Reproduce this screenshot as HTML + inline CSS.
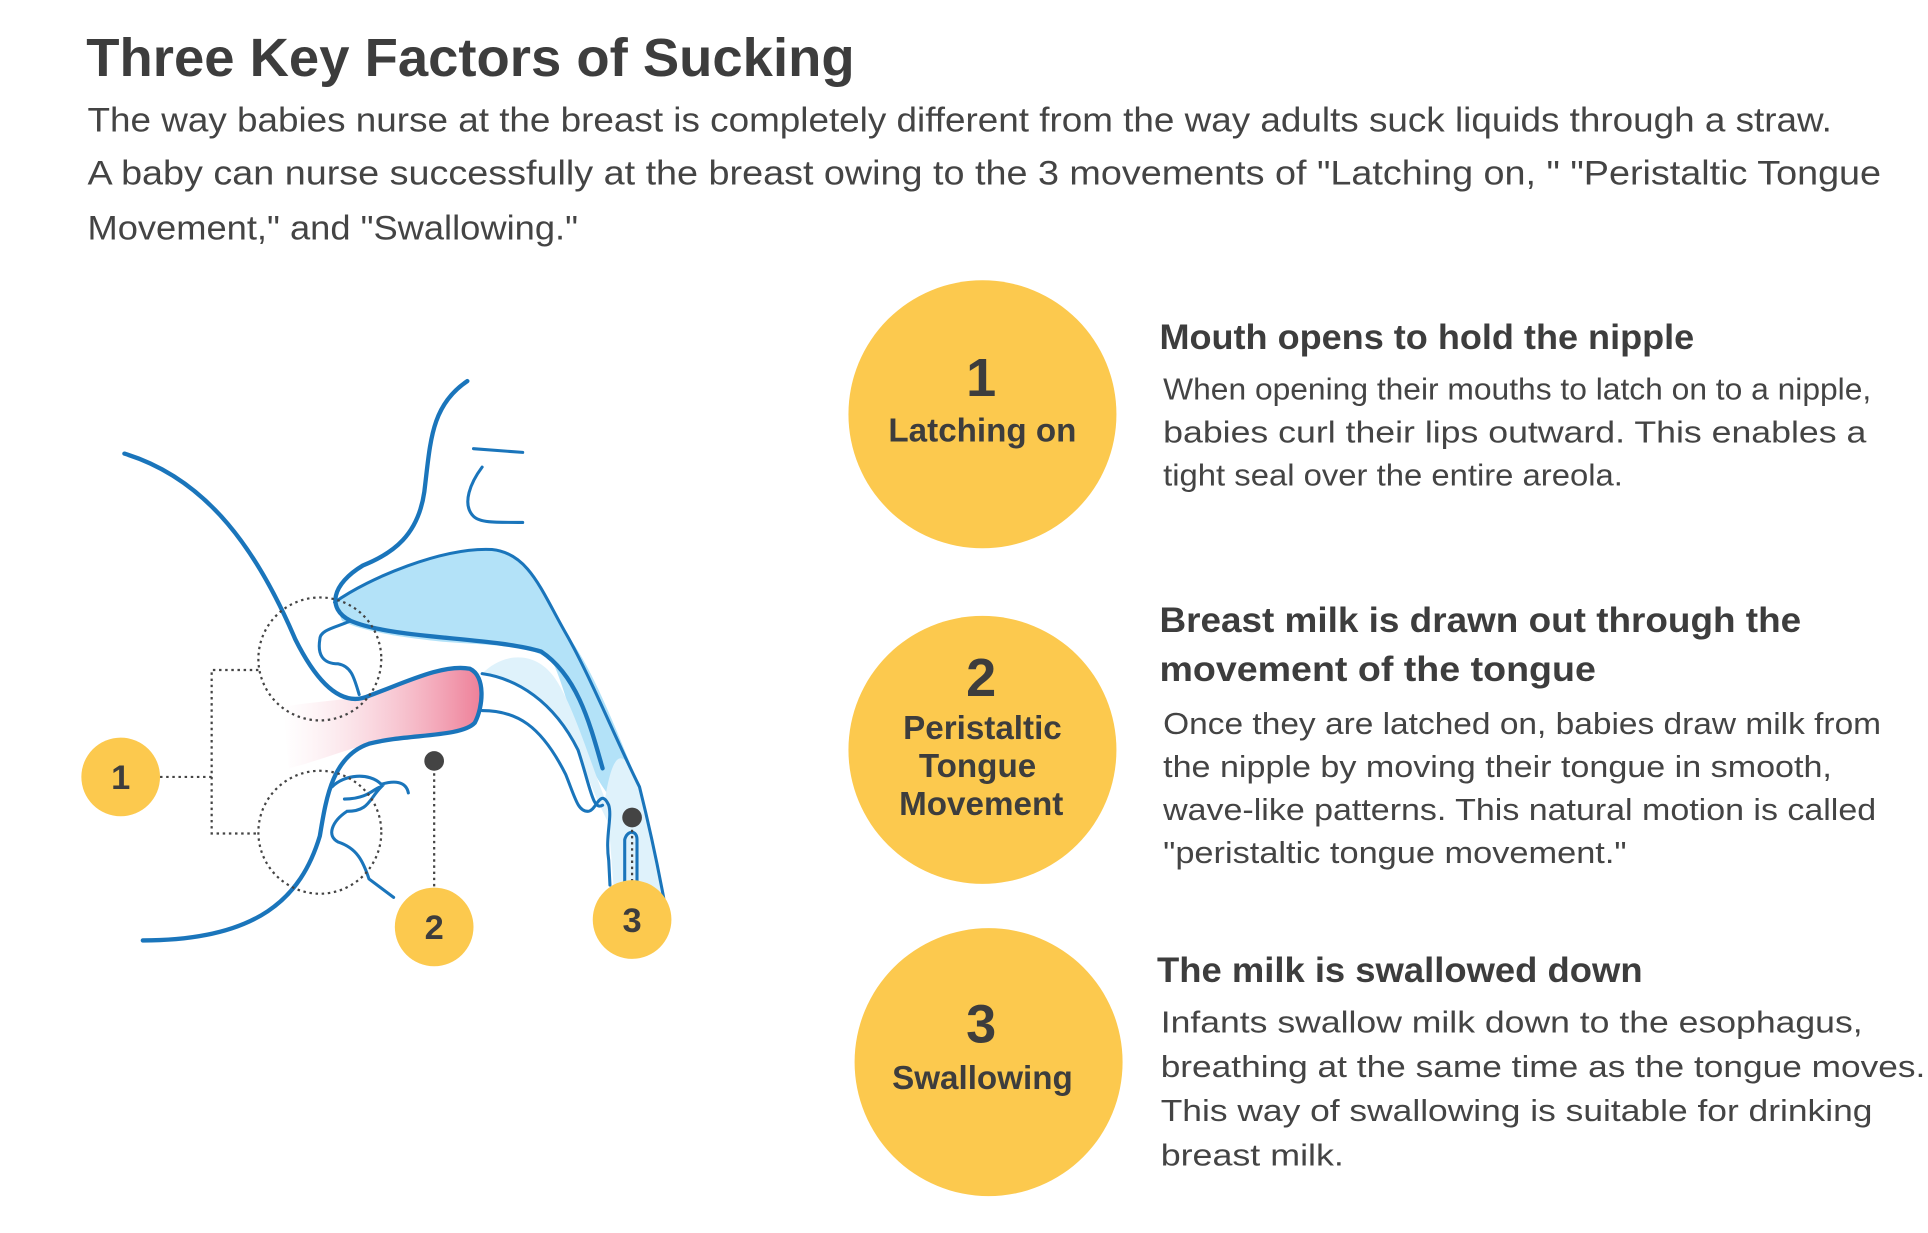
<!DOCTYPE html>
<html><head><meta charset="utf-8"><style>
html,body{margin:0;padding:0;background:#fff;}
svg{display:block;}
text{font-family:"Liberation Sans",sans-serif;}
</style></head><body>
<svg width="1928" height="1233" viewBox="0 0 1568 1003" xmlns="http://www.w3.org/2000/svg">
<defs>
<linearGradient id="pk" x1="0" y1="0" x2="1" y2="0">
<stop offset="0" stop-color="#f7c6d2" stop-opacity="0"/>
<stop offset="1" stop-color="#ee7f98"/>
</linearGradient>
</defs>
<text x="70" y="62" font-size="44" font-weight="bold" fill="#3d3d3d" textLength="625" lengthAdjust="spacingAndGlyphs">Three Key Factors of Sucking</text>
<g font-size="28" fill="#444">
<text x="71" y="107" textLength="1419" lengthAdjust="spacingAndGlyphs">The way babies nurse at the breast is completely different from the way adults suck liquids through a straw.</text>
<text x="71" y="150" textLength="1459" lengthAdjust="spacingAndGlyphs">A baby can nurse successfully at the breast owing to the 3 movements of "Latching on, "  "Peristaltic Tongue</text>
<text x="71" y="195" textLength="399" lengthAdjust="spacingAndGlyphs">Movement," and "Swallowing."</text>
</g>

<!-- diagram -->
<path d="M230,575 C260,570 280,570 300,565 C330,555 360,540 382,544 C395,550 393,575 386,588 C375,600 330,597 300,605 C275,612 255,620 235,625 Z" fill="url(#pk)"/>
<path d="M272,490 C300,470 360,445 400,447 C430,450 445,490 460,515 C480,540 500,590 520,640 C528,670 535,700 540,732 L520,735 C515,700 505,660 490,640 C470,610 460,560 450,540 C440,525 400,525 360,522 C320,518 290,512 278,505 Z" fill="#b3e2f8"/>
<path d="M392,548 C420,552 450,570 470,610 C480,640 490,660 495,670 L500,735 L540,732 C535,700 528,670 520,640 C510,615 500,600 492,650 C480,620 465,570 450,550 C435,530 410,530 392,548 Z" fill="#dff2fb"/>
<g fill="none" stroke="#1a75bb" stroke-width="3.5" stroke-linecap="round">
<path d="M101,369 C170,390 210,450 240,520 C260,560 280,575 300,566 C330,555 360,540 382,544 C395,550 393,575 386,588 C375,600 330,597 300,605 C270,615 265,650 260,680 C245,730 210,765 116,765"/>
<path d="M380,310 C350,330 350,360 345,400 C340,435 320,450 295,460 C270,475 265,495 285,505 C320,520 400,518 440,530 C470,550 480,590 490,625"/>
</g>
<g fill="none" stroke="#1a75bb" stroke-width="2.5" stroke-linecap="round">
<path d="M272,490 C300,470 360,445 400,447 C430,450 440,480 460,515 C480,550 500,600 520,640 C530,680 535,705 540,732"/>
<path d="M285,505 C275,510 260,512 260,520 C258,532 262,540 275,540 C286,542 288,552 292,565"/>
<path d="M392,548 C420,552 450,570 470,610 C480,640 482,660 490,655"/>
<path d="M392,578 C420,578 440,590 460,630 C468,650 470,660 478,660 C485,660 488,640 495,655 C498,665 492,680 495,700 L496,720"/>
<path d="M508,720 L508,683 C510,675 518,675 518,683 L518,718"/>
<path d="M270,640 C280,630 300,628 310,638 C320,635 330,635 332,645"/>
<path d="M280,650 C300,650 305,640 310,640 C300,650 300,660 282,660 C270,668 265,680 275,685 C290,690 295,700 300,715 L320,730"/>
<path d="M385,365 L425,368"/>
<path d="M392,380 C383,392 375,410 385,420 C390,425 400,425 425,425"/>
</g>
<g fill="none" stroke="#444" stroke-width="1.8" stroke-dasharray="2 3">
<circle cx="260" cy="536" r="50"/>
<circle cx="260" cy="677" r="50"/>
<path d="M130,632 H172 M210,545 H172 V678 H210"/>
<path d="M353,619 V722"/>
<path d="M514,665 V718"/>
</g>
<circle cx="353" cy="619" r="8" fill="#444"/>
<circle cx="514" cy="665" r="8" fill="#444"/>
<g fill="#fcc94e">
<circle cx="98" cy="632" r="32"/>
<circle cx="353" cy="754" r="32"/>
<circle cx="514" cy="748" r="32"/>
<circle cx="799" cy="337" r="109"/>
<circle cx="799" cy="610" r="109"/>
<circle cx="804" cy="864" r="109"/>
</g>
<g font-size="28" font-weight="bold" fill="#3d3d3d" text-anchor="middle">
<text x="98" y="642">1</text>
<text x="353" y="764">2</text>
<text x="514" y="758">3</text>
<text x="798" y="322" font-size="44">1</text>
<text x="799" y="359" font-size="27">Latching on</text>
<text x="798" y="566" font-size="44">2</text>
<text x="799" y="601" font-size="27">Peristaltic</text>
<text x="795" y="632" font-size="27">Tongue</text>
<text x="798" y="663" font-size="27">Movement</text>
<text x="798" y="848" font-size="44">3</text>
<text x="799" y="886" font-size="27">Swallowing</text>
</g>
<g font-size="29" font-weight="bold" fill="#3d3d3d">
<text x="943" y="284" textLength="435" lengthAdjust="spacingAndGlyphs">Mouth opens to hold the nipple</text>
<text x="943" y="514" textLength="522" lengthAdjust="spacingAndGlyphs">Breast milk is drawn out through the</text>
<text x="943" y="554" textLength="355" lengthAdjust="spacingAndGlyphs">movement of the tongue</text>
<text x="941" y="799" textLength="395" lengthAdjust="spacingAndGlyphs">The milk is swallowed down</text>
</g>
<g font-size="25" fill="#444" lengthAdjust="spacingAndGlyphs">
<text x="946" y="325" textLength="576" lengthAdjust="spacingAndGlyphs">When opening their mouths to latch on to a nipple,</text>
<text x="946" y="360" textLength="572" lengthAdjust="spacingAndGlyphs">babies curl their lips outward. This enables a</text>
<text x="946" y="395" textLength="374" lengthAdjust="spacingAndGlyphs">tight seal over the entire areola.</text>
<text x="946" y="597" textLength="584" lengthAdjust="spacingAndGlyphs">Once they are latched on, babies draw milk from</text>
<text x="946" y="632" textLength="544" lengthAdjust="spacingAndGlyphs">the nipple by moving their tongue in smooth,</text>
<text x="946" y="667" textLength="580" lengthAdjust="spacingAndGlyphs">wave-like patterns. This natural motion is called</text>
<text x="946" y="702" textLength="377" lengthAdjust="spacingAndGlyphs">"peristaltic tongue movement."</text>
<text x="944" y="840" textLength="571" lengthAdjust="spacingAndGlyphs">Infants swallow milk down to the esophagus,</text>
<text x="944" y="876" textLength="622" lengthAdjust="spacingAndGlyphs">breathing at the same time as the tongue moves.</text>
<text x="944" y="912" textLength="579" lengthAdjust="spacingAndGlyphs">This way of swallowing is suitable for drinking</text>
<text x="944" y="948" textLength="149" lengthAdjust="spacingAndGlyphs">breast milk.</text>
</g>
</svg>
</body></html>
